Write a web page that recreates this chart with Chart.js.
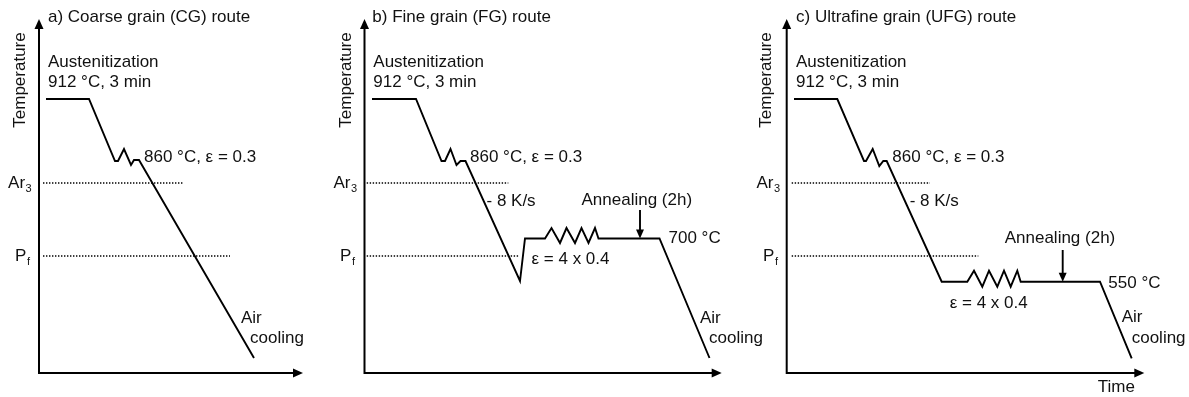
<!DOCTYPE html>
<html>
<head>
<meta charset="utf-8">
<script src="https://cdn.jsdelivr.net/npm/chart.js@4/dist/chart.umd.min.js"></script>
<style>
  html, body { margin: 0; padding: 0; background: #fff; }
  #wrap { position: relative; width: 1189px; height: 397px; overflow: hidden; }
  #wrap canvas { position: absolute; top: 0; left: 0; }
</style>
</head>
<body>
<div id="wrap">
  <canvas id="cg"></canvas>
  <canvas id="fg"></canvas>
  <canvas id="ufg"></canvas>
</div>
<script>
// Schematic units: time runs right from the temperature axis,
// temperature runs up from the time axis (1 unit = 1 px on screen).

// a) Coarse grain route: austenitization, one pass at 860 °C, air cooling
const cgTime = [7, 50, 76, 79, 85, 92, 95, 100, 215];
const cgTemp = [274, 274, 212, 212, 224, 208, 213, 213, 15];

// b) Fine grain route: quench below Pf, reheat to 700 °C, 4 passes, anneal, air cool
const fgTime = [7.5, 51.5, 77, 80.5, 86, 92, 96, 101, 155.5, 160.5, 180.5, 187, 195.5, 202, 210.5, 217, 224, 230.5, 234, 295, 345];
const fgTemp = [274, 274, 212, 212, 224, 208, 212, 212, 92, 134.5, 134.5, 145, 130, 145, 130, 145, 130, 145, 134.5, 134.5, 15];

// c) Ultrafine grain route: cool to 550 °C, 4 passes, anneal, air cool
const ufgTime = [7.3, 50.6, 77.3, 79.3, 86, 92.6, 96.6, 100, 155, 180.6, 187.3, 195.6, 202.3, 210.6, 217.3, 224, 230.6, 234, 313.3, 345];
const ufgTemp = [274, 274, 212, 212, 224, 207, 212, 212, 91.3, 91.3, 102.3, 86.3, 102.3, 86.3, 102.3, 86.3, 102.3, 91.3, 91.3, 14.7];

// Critical temperatures (Ar3, Pf) and the time span of their dotted guides
const criticalNames = ['Ar', 'P'];
const criticalSubs = ['3', 'f'];
const criticalTemp = [190, 117];
const cgGuideEnd = [144, 191];
const fgGuideEnd = [143.8, 153.8];
const ufgGuideEnd = [143.3, 191.6];

// Annealing marker: time, temperature where the arrow starts, temperature it points to
const fgAnneal = [275.5, 163, 134.5];
const ufgAnneal = [276, 123, 91.3];

const titles = ['a) Coarse grain (CG) route', 'b) Fine grain (FG) route', 'c) Ultrafine grain (UFG) route'];
const yAxisTitle = 'Temperature';
const xAxisTitle = 'Time';

const FONT = '"Liberation Sans", Arial, Helvetica, sans-serif';
const INK = '#111';
const PAGE_W = 1189, PAGE_H = 397, AXIS_TOP = 19, AXIS_BOTTOM = 373;

function pts(xs, ys) { return xs.map((x, i) => ({ x: x, y: ys[i] })); }

function guideSets(guideStart, guideEnd) {
  return criticalTemp.map((t, i) => ({
    data: [{ x: guideStart, y: t }, { x: guideEnd[i], y: t }],
    borderColor: '#000', borderWidth: 1.3, borderDash: [1.4, 1.6],
    pointRadius: 0, fill: false
  }));
}

function arrowHead(ctx, x, y, dir, len, half) {
  ctx.beginPath();
  if (dir === 'up') { ctx.moveTo(x, y); ctx.lineTo(x - half, y + len); ctx.lineTo(x + half, y + len); }
  else if (dir === 'down') { ctx.moveTo(x, y); ctx.lineTo(x - half, y - len); ctx.lineTo(x + half, y - len); }
  else { ctx.moveTo(x, y); ctx.lineTo(x - len, y - half); ctx.lineTo(x - len, y + half); }
  ctx.closePath();
  ctx.fill();
}

const decorPlugin = {
  id: 'decor',
  afterDatasetsDraw(chart, args, opts) {
    const ctx = chart.ctx;
    const a = chart.chartArea;
    const xs = chart.scales.x, ys = chart.scales.y;
    const X = v => xs.getPixelForValue(v), Y = v => ys.getPixelForValue(v);
    ctx.save();
    ctx.strokeStyle = '#000';
    ctx.fillStyle = '#000';
    ctx.lineWidth = 2;
    // axes with arrow heads
    ctx.beginPath();
    ctx.moveTo(a.left, a.top + 8);
    ctx.lineTo(a.left, a.bottom);
    ctx.lineTo(a.right - 8, a.bottom);
    ctx.stroke();
    arrowHead(ctx, a.left, a.top, 'up', 10, 4.5);
    arrowHead(ctx, a.right, a.bottom, 'right', 10, 4.5);
    // annealing arrow head
    if (opts.anneal) arrowHead(ctx, X(opts.anneal[0]), Y(opts.anneal[2]), 'down', 9, 4);

    ctx.fillStyle = INK;
    ctx.textBaseline = 'middle';
    ctx.font = '17px ' + FONT;
    ctx.textAlign = 'left';
    opts.labels.forEach(l => ctx.fillText(l[0], X(l[1]), Y(l[2])));

    // rotated temperature axis title
    ctx.save();
    ctx.translate(X(opts.yTitle[0]), Y(opts.yTitle[1]));
    ctx.rotate(-Math.PI / 2);
    ctx.textAlign = 'center';
    ctx.fillText(yAxisTitle, 0, 0);
    ctx.restore();

    // Ar3 and Pf labels with subscripts, right aligned
    criticalNames.forEach((n, i) => {
      ctx.font = '17px ' + FONT;
      const w1 = ctx.measureText(n).width;
      ctx.font = '11px ' + FONT;
      const w2 = ctx.measureText(criticalSubs[i]).width;
      const right = X(opts.critX[i]);
      const y = Y(criticalTemp[i]);
      ctx.textAlign = 'left';
      ctx.font = '17px ' + FONT;
      ctx.fillText(n, right - w1 - w2 - 0.5, y);
      ctx.font = '11px ' + FONT;
      ctx.fillText(criticalSubs[i], right - w2, y + 6);
    });
    ctx.restore();
  }
};

// Each panel gets its own full-page transparent canvas; padding places its axes.
function makePanel(id, axisX, xLen, datasets, opts) {
  const cv = document.getElementById(id);
  cv.width = PAGE_W; cv.height = PAGE_H;
  cv.style.width = PAGE_W + 'px'; cv.style.height = PAGE_H + 'px';
  return new Chart(cv, {
    type: 'line',
    data: { datasets: datasets },
    options: {
      responsive: false, animation: false, devicePixelRatio: 1,
      layout: { padding: { left: axisX, right: PAGE_W - axisX - xLen, top: AXIS_TOP, bottom: PAGE_H - AXIS_BOTTOM } },
      scales: {
        x: { type: 'linear', display: false, min: 0, max: xLen },
        y: { type: 'linear', display: false, min: 0, max: AXIS_BOTTOM - AXIS_TOP }
      },
      plugins: { legend: { display: false }, tooltip: { enabled: false }, decor: opts },
      elements: { line: { tension: 0 } }
    },
    plugins: [decorPlugin]
  });
}

function routeSet(xs, ys) {
  return { data: pts(xs, ys), borderColor: '#000', borderWidth: 1.9, pointRadius: 0, fill: false, borderJoinStyle: 'miter' };
}
function annealSet(an) {
  return { data: [{ x: an[0], y: an[1] }, { x: an[0], y: an[2] + 8 }], borderColor: '#000', borderWidth: 1.9, pointRadius: 0, fill: false };
}

makePanel('cg', 39, 264,
  [routeSet(cgTime, cgTemp)].concat(guideSets(4, cgGuideEnd)),
  {
    labels: [
      [titles[0], 9, 356], ['Austenitization', 9, 311], ['912 °C, 3 min', 9, 291],
      ['860 °C, ε = 0.3', 105, 216], ['Air', 202, 55], ['cooling', 211, 35]
    ],
    yTitle: [-19, 293], critX: [-7.3, -9]
  });

makePanel('fg', 364.5, 357.2,
  [routeSet(fgTime, fgTemp), annealSet(fgAnneal)].concat(guideSets(2.2, fgGuideEnd)),
  {
    labels: [
      [titles[1], 7.8, 356], ['Austenitization', 8.8, 311], ['912 °C, 3 min', 8.8, 291],
      ['860 °C, ε = 0.3', 105.5, 216], ['- 8 K/s', 122, 172], ['Annealing (2h)', 217, 173],
      ['700 °C', 304, 135], ['ε = 4 x 0.4', 167, 114], ['Air', 335.5, 55], ['cooling', 344.5, 35]
    ],
    yTitle: [-18.5, 293], critX: [-7.5, -9.5], anneal: fgAnneal
  });

makePanel('ufg', 786.7, 357.6,
  [routeSet(ufgTime, ufgTemp), annealSet(ufgAnneal)].concat(guideSets(5, ufgGuideEnd)),
  {
    labels: [
      [titles[2], 9.3, 356], ['Austenitization', 9.3, 311], ['912 °C, 3 min', 9.3, 291],
      ['860 °C, ε = 0.3', 105.6, 216], ['- 8 K/s', 123, 172], ['Annealing (2h)', 218, 135],
      ['550 °C', 321.6, 90], ['ε = 4 x 0.4', 163, 70], ['Air', 335, 56], ['cooling', 345, 35],
      [xAxisTitle, 311, -14]
    ],
    yTitle: [-20, 293], critX: [-6.7, -8.7], anneal: ufgAnneal
  });
</script>
</body>
</html>
